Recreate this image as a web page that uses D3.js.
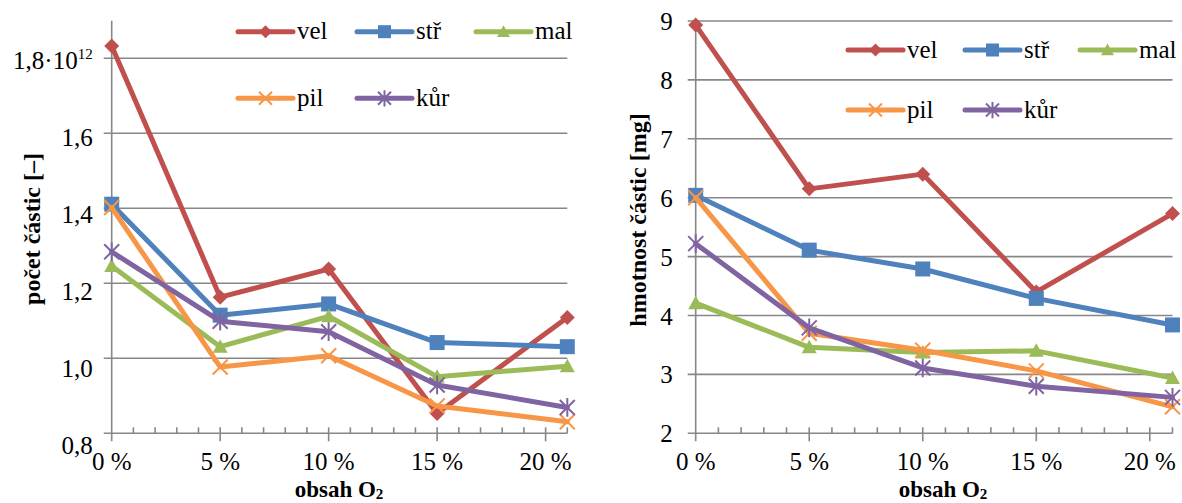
<!DOCTYPE html>
<html><head><meta charset="utf-8">
<script src="https://cdn.jsdelivr.net/npm/d3@7"></script>
<style>
body{margin:0;background:#fff;}
svg{display:block;}
</style></head>
<body><svg id="c" width="1182" height="503"></svg>
<script>
// ---- data ----
const o2 = [0, 5, 10, 15, 21];               // obsah O2 [%]
const seriesNames = ["vel", "stř", "mal", "pil", "kůr"];
const seriesColors = ["#C0504D", "#4F81BD", "#9BBB59", "#F79646", "#8064A2"];
const seriesMarkers = ["diamond", "square", "triangle", "x", "star"];
// počet částic [×10^12]
const countVel = [1.833, 1.163, 1.238, 0.853, 1.109];
const countStr = [1.411, 1.115, 1.145, 1.042, 1.031];
const countMal = [1.246, 1.031, 1.112, 0.951, 0.979];
const countPil = [1.402, 0.977, 1.007, 0.873, 0.831];
const countKur = [1.284, 1.099, 1.071, 0.929, 0.869];
// hmotnost částic [mg]
const massVel = [8.93, 6.15, 6.40, 4.40, 5.73];
const massStr = [6.04, 5.11, 4.79, 4.29, 3.84];
const massMal = [4.21, 3.46, 3.37, 3.40, 2.94];
const massPil = [6.00, 3.70, 3.41, 3.06, 2.45];
const massKur = [5.22, 3.79, 3.11, 2.80, 2.61];
const xTickValues = [0, 5, 10, 15, 20];
const xTickLabels = ["0 %", "5 %", "10 %", "15 %", "20 %"];
const countTicks = [0.8, 1.0, 1.2, 1.4, 1.6, 1.8];
const countTickLabels = ["0,8", "1,0", "1,2", "1,4", "1,6", "1,8"];
const massTicks = [2, 3, 4, 5, 6, 7, 8, 9];
const massTickLabels = ["2", "3", "4", "5", "6", "7", "8", "9"];

const FONT = '"Liberation Serif"';
const svg = d3.select("#c");
const GRID = "#878787";
const FS = 25;

function txt(g) {
  return g.append("text").style("font-family", FONT).attr("fill", "#000");
}
function markerPath(type, s) {
  const h = s / 2;
  switch (type) {
    case "diamond": return `M0,${-h}L${h},0L0,${h}L${-h},0Z`;
    case "square": return `M${-h},${-h}H${h}V${h}H${-h}Z`;
    case "triangle": return `M0,${-h}L${h},${h*0.8}L${-h},${h*0.8}Z`;
    case "x": return `M${-h},${-h}L${h},${h}M${h},${-h}L${-h},${h}`;
    case "star": return `M${-h},${-h}L${h},${h}M${h},${-h}L${-h},${h}M0,${-h*1.25}V${h*1.25}`;
  }
}
function drawMarker(g, type, color, x, y, s) {
  const filled = type === "diamond" || type === "square" || type === "triangle";
  g.append("path").attr("d", markerPath(type, s))
    .attr("transform", `translate(${x},${y})`)
    .attr("fill", filled ? color : "none")
    .attr("stroke", color).attr("stroke-width", filled ? 0 : 2);
}

function chart(cfg) {
  const g = svg.append("g");
  const x = d3.scaleLinear().domain([0, 21]).range(cfg.xr);
  const y = d3.scaleLinear().domain(cfg.yd).range(cfg.yr);
  const y0 = y(cfg.yd[0]);
  cfg.ticks.forEach((t, i) => {
    g.append("line").attr("x1", x(0) - 8).attr("x2", x(21))
      .attr("y1", y(t)).attr("y2", y(t))
      .attr("stroke", GRID).attr("stroke-width", 1.6);
    const tx = txt(g).attr("x", x(0) - cfg.labGap).attr("y", y(t) + cfg.labDy(i))
      .attr("text-anchor", "end").attr("font-size", FS);
    if (cfg.sup && i === cfg.ticks.length - 1) {
      tx.append("tspan").text(cfg.tickLabels[i] + "·10");
      tx.append("tspan").attr("font-size", 15).attr("dy", -10).text("12");
    } else tx.text(cfg.tickLabels[i]);
  });
  g.append("line").attr("x1", x(0)).attr("x2", x(0))
    .attr("y1", y(cfg.yd[1])).attr("y2", y0 + 8)
    .attr("stroke", GRID).attr("stroke-width", 1.6);
  d3.range(1, 22).forEach(v => {
    const major = xTickValues.includes(v);
    g.append("line").attr("x1", x(v)).attr("x2", x(v))
      .attr("y1", y0 - 6).attr("y2", major ? y0 + 8 : y0)
      .attr("stroke", GRID).attr("stroke-width", 1.6);
  });
  xTickValues.forEach((v, i) => {
    txt(g).attr("x", x(v)).attr("y", 470)
      .attr("text-anchor", "middle").attr("font-size", FS).text(xTickLabels[i]);
  });
  const xt = txt(g).attr("x", cfg.xTitleX).attr("y", 497)
    .attr("text-anchor", "middle").attr("font-size", 23).attr("font-weight", "bold");
  xt.append("tspan").text("obsah O");
  xt.append("tspan").attr("font-size", 15).attr("dy", 2).text("2");
  txt(g).attr("transform", `translate(${cfg.yTitle[0]},${cfg.yTitle[1]}) rotate(-90)`)
    .attr("text-anchor", "middle").attr("dy", "0.35em")
    .attr("font-size", 24).attr("font-weight", "bold").text(cfg.yTitleText);
  const line = d3.line().x((d, i) => x(o2[i])).y(d => y(d));
  cfg.data.forEach((vals, si) => {
    const c = seriesColors[si];
    g.append("path").attr("d", line(vals)).attr("fill", "none")
      .attr("stroke", c).attr("stroke-width", 5)
      .attr("stroke-linejoin", "round").attr("stroke-linecap", "round");
    vals.forEach((v, i) => drawMarker(g, seriesMarkers[si], c, x(o2[i]), y(v), 15));
  });
  cfg.legend.forEach((p, si) => {
    const c = seriesColors[si];
    g.append("line").attr("x1", p[0]).attr("x2", p[0] + 55).attr("y1", p[1]).attr("y2", p[1])
      .attr("stroke", c).attr("stroke-width", 5).attr("stroke-linecap", "round");
    drawMarker(g, seriesMarkers[si], c, p[0] + 27.5, p[1], 13);
    txt(g).attr("x", p[0] + 59).attr("y", p[1]).attr("dy", "0.3em")
      .attr("font-size", FS).text(seriesNames[si]);
  });
}

chart({
  xr: [111.7, 567.3], yd: [0.8, 1.9], yr: [433.3, 20.8],
  ticks: countTicks, tickLabels: countTickLabels, sup: true,
  labGap: 19, labDy: i => 21 - i * 2,
  xTitleX: 339, yTitle: [32, 229], yTitleText: "počet částic [–]",
  data: [countVel, countStr, countMal, countPil, countKur],
  legend: [[238, 31.7], [357, 31.7], [476, 31.7], [238, 98.3], [357, 98.3]]
});
chart({
  xr: [695.7, 1172.5], yd: [2, 9], yr: [433.3, 21],
  ticks: massTicks, tickLabels: massTickLabels, sup: false,
  labGap: 23, labDy: i => 9,
  xTitleX: 943, yTitle: [638, 220], yTitleText: "hmotnost částic [mg]",
  data: [massVel, massStr, massMal, massPil, massKur],
  legend: [[848, 50], [965, 50], [1080, 50], [848, 110], [965, 110]]
});
</script></body></html>
